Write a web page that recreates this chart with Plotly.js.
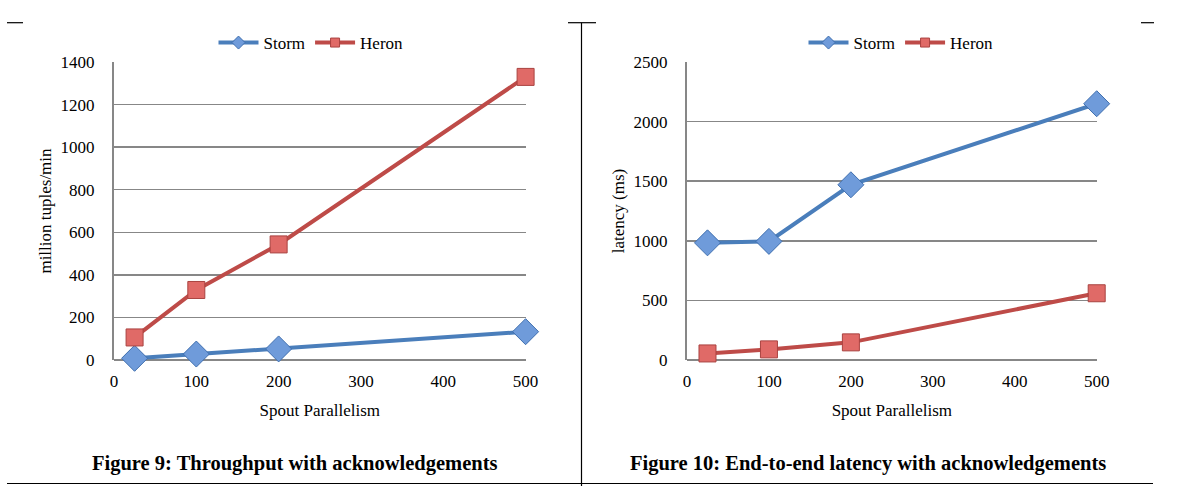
<!DOCTYPE html>
<html>
<head>
<meta charset="utf-8">
<script src="https://cdn.plot.ly/plotly-3.0.1.min.js"></script>
<style>
  html, body { margin: 0; padding: 0; background: #fff; }
  #chart { width: 1177px; height: 497px; }
</style>
</head>
<body>
<div id="chart"></div>
<script>
// spout parallelism values (x)
let parallelism = [25, 100, 200, 500];

// Figure 9: throughput, million tuples/min
let stormThroughput = [8, 28, 52, 133];
let heronThroughput = [106, 329, 543, 1330];

// Figure 10: end-to-end latency, ms
let stormLatency = [983, 995, 1470, 2150];
let heronLatency = [55, 89, 148, 560];

let W = 1177, H = 497;
function px(x) { return x / W; }
function py(y) { return 1 - y / H; }

let serif = '"Liberation Serif", "Times New Roman", Times, serif';
let blue = '#4A7EBB', red = '#BE4B48';

function font(size) {
    return {family: serif, size: size, color: '#000'};
}

// big markers on the plot, small ones in the legend (like Excel)
function storm(x, y, xa, ya, lg, size) {
    return {
        x: x, y: y, xaxis: xa, yaxis: ya, legend: lg,
        name: 'Storm', mode: 'lines+markers', cliponaxis: false,
        showlegend: size < 15,
        line: {color: blue, width: 4},
        marker: {symbol: 'diamond', size: size, color: '#6F9BDA', line: {color: '#3F6FAF', width: 1}}
    };
}
function heron(x, y, xa, ya, lg, size) {
    return {
        x: x, y: y, xaxis: xa, yaxis: ya, legend: lg,
        name: 'Heron', mode: 'lines+markers', cliponaxis: false,
        showlegend: size < 15,
        line: {color: red, width: 4},
        marker: {symbol: 'square', size: size, color: '#E06A67', line: {color: '#A94340', width: 1}}
    };
}

let traces = [
    storm(parallelism, stormThroughput, 'x', 'y', 'legend', 20),
    heron(parallelism, heronThroughput, 'x', 'y', 'legend', 17),
    storm(parallelism, stormLatency, 'x2', 'y2', 'legend2', 20),
    heron(parallelism, heronLatency, 'x2', 'y2', 'legend2', 17),
    // legend-only entries
    storm([null], [null], 'x', 'y', 'legend', 10),
    heron([null], [null], 'x', 'y', 'legend', 9),
    storm([null], [null], 'x2', 'y2', 'legend2', 10),
    heron([null], [null], 'x2', 'y2', 'legend2', 9)
];

function xAxis(d0, d1, anchor) {
    return {
        domain: [px(d0), px(d1)], anchor: anchor,
        range: [0, 500], tickvals: [0, 100, 200, 300, 400, 500],
        showgrid: false, zeroline: false,
        showline: false, ticks: '', ticklabelstandoff: 9,
        tickfont: font(17),
        title: {text: 'Spout Parallelism', font: font(17), standoff: 14}
    };
}
function yAxis(maxv, dt, anchor, title) {
    return {
        domain: [py(360), py(62)], anchor: anchor,
        range: [0, maxv], dtick: dt,
        showgrid: true, gridcolor: '#878787', gridwidth: 1.5,
        zeroline: true, zerolinecolor: '#878787', zerolinewidth: 2,
        showline: true, linecolor: '#878787', linewidth: 2,
        ticks: '', ticklabelstandoff: 14,
        tickfont: font(17),
        title: {text: title, font: font(17), standoff: 5}
    };
}

function legendAt(cx) {
    return {
        orientation: 'h', x: px(cx), xanchor: 'center', y: py(43), yanchor: 'middle',
        font: font(17), bgcolor: 'rgba(0,0,0,0)', itemwidth: 40, tracegroupgap: 0
    };
}

function line(x0, y0, x1, y1) {
    return {type: 'line', xref: 'paper', yref: 'paper',
        x0: px(x0), y0: py(y0), x1: px(x1), y1: py(y1),
        line: {color: '#000', width: 1.2}};
}

let layout = {
    width: W, height: H,
    margin: {l: 0, r: 0, t: 0, b: 0},
    paper_bgcolor: '#fff', plot_bgcolor: '#fff',
    font: font(17),
    xaxis: xAxis(114, 525.6, 'y'),
    yaxis: yAxis(1400, 200, 'x', 'million tuples/min'),
    xaxis2: xAxis(687, 1096.7, 'y2'),
    yaxis2: yAxis(2500, 500, 'x2', 'latency (ms)'),
    legend: legendAt(311),
    legend2: legendAt(901),
    shapes: [
        line(7, 22.7, 23, 22.7),
        line(568, 22.7, 596, 22.7),
        line(1141, 22.7, 1154, 22.7),
        line(581.5, 22.7, 581.5, 486),
        line(7, 483.5, 1153, 483.5)
    ],
    annotations: [
        {text: '<b>Figure 9: Throughput with acknowledgements</b>', xref: 'paper', yref: 'paper',
            x: px(295), y: py(463), xanchor: 'center', yanchor: 'middle', showarrow: false, font: font(20.5)},
        {text: '<b>Figure 10: End-to-end latency with acknowledgements</b>', xref: 'paper', yref: 'paper',
            x: px(868), y: py(463), xanchor: 'center', yanchor: 'middle', showarrow: false, font: font(20.5)}
    ]
};

Plotly.newPlot('chart', traces, layout, {displayModeBar: false, staticPlot: true});
</script>
</body>
</html>
